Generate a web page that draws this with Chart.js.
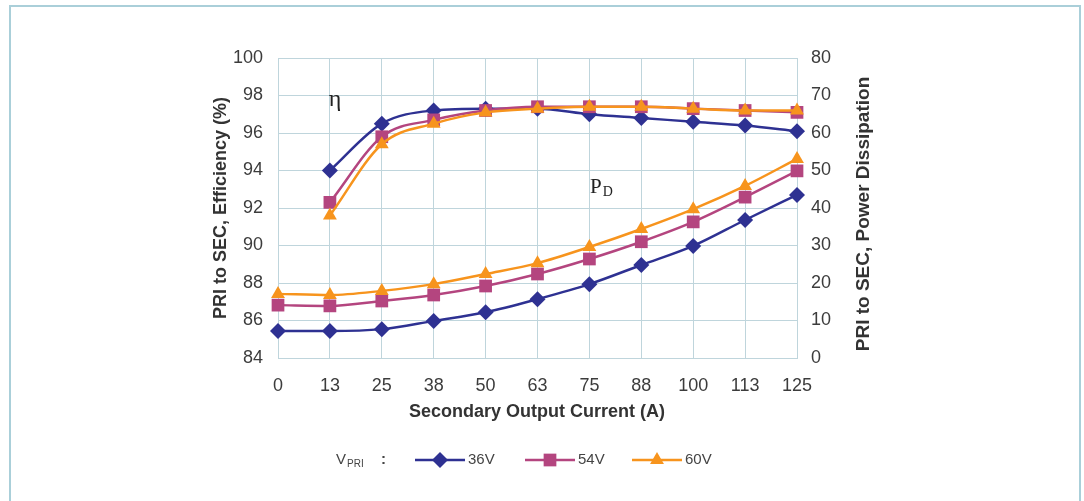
<!DOCTYPE html>
<html>
<head>
<meta charset="utf-8">
<script src="https://cdn.jsdelivr.net/npm/chart.js@4.4.0/dist/chart.umd.min.js"></script>
<style>
  html, body { margin: 0; padding: 0; background: #fff; overflow: hidden; }
  #wrap { position: relative; width: 1084px; height: 501px; }
  #frame { position: absolute; left: 9px; top: 5px; width: 1072px; height: 600px;
           border: 2px solid #aacfd9; box-sizing: border-box; }
</style>
</head>
<body>
<div id="wrap">
  <div id="frame"></div>
  <canvas id="chart1" width="1084" height="501"></canvas>
</div>
<script>
const currents = ['0', '13', '25', '38', '50', '63', '75', '88', '100', '113', '125'];

// efficiency (%), left axis - no point at 0 A
const eff36 = [null, 94.0, 96.5, 97.2, 97.3, 97.3, 97.0, 96.8, 96.6, 96.4, 96.1];
const eff54 = [null, 92.3, 95.8, 96.7, 97.2, 97.4, 97.4, 97.4, 97.3, 97.2, 97.1];
const eff60 = [null, 91.6, 95.4, 96.5, 97.1, 97.3, 97.4, 97.4, 97.3, 97.2, 97.2];

// power dissipation, right axis
const pd36 = [7.2, 7.2, 7.7, 9.9, 12.2, 15.7, 19.7, 24.8, 29.9, 36.8, 43.5];
const pd54 = [14.1, 13.9, 15.2, 16.8, 19.2, 22.4, 26.4, 31.0, 36.3, 42.9, 49.9];
const pd60 = [17.1, 16.8, 17.9, 19.7, 22.4, 25.3, 29.6, 34.4, 39.7, 45.9, 53.1];

const seriesNames = ['36V', '54V', '60V'];
const colors = ['#2e3192', '#b4457f', '#f7941d'];
const markers = ['rectRot', 'rect', 'triangle'];
const radii = [8, 9, 8];

const gridColor = '#bfd5dc';
const tickColor = '#3c3c3c';
const sans = "'Liberation Sans', Arial, sans-serif";
const serif = "'Liberation Serif', 'DejaVu Serif', serif";

function series(label, values, i, axis) {
    return {
        label: label,
        data: values,
        yAxisID: axis,
        borderColor: colors[i],
        backgroundColor: colors[i],
        borderWidth: 2.5,
        pointStyle: markers[i],
        pointRadius: radii[i],
        pointBorderWidth: 0,
        pointBackgroundColor: colors[i],
        cubicInterpolationMode: 'monotone',
        order: 3 - i
    };
}

const data1 = {
    labels: currents,
    datasets: [
        series('36V', eff36, 0, 'y'),
        series('54V', eff54, 1, 'y'),
        series('60V', eff60, 2, 'y'),
        series('36V', pd36, 0, 'y2'),
        series('54V', pd54, 1, 'y2'),
        series('60V', pd60, 2, 'y2')
    ]
};

const extras = {
    id: 'extras',
    afterDraw(chart) {
        const ctx = chart.ctx;
        const xs = chart.scales.x;
        const ys = chart.scales.y;
        ctx.save();
        ctx.fillStyle = '#333';
        ctx.textAlign = 'center';
        ctx.textBaseline = 'middle';

        // axis titles
        ctx.font = 'bold 18px ' + sans;
        ctx.fillText('Secondary Output Current (A)', 537, 412);
        ctx.save();
        ctx.translate(221, 208);
        ctx.rotate(-Math.PI / 2);
        ctx.fillText('PRI to SEC, Efficiency (%)', 0, 0);
        ctx.restore();
        ctx.save();
        ctx.translate(864, 214);
        ctx.rotate(-Math.PI / 2);
        ctx.font = 'bold 19px ' + sans;
        ctx.fillText('PRI to SEC, Power Dissipation', 0, 0);
        ctx.restore();

        // curve labels
        ctx.fillStyle = '#222';
        ctx.font = '24px ' + serif;
        ctx.fillText('\u03b7', xs.getPixelForValue(1.1), ys.getPixelForValue(97.8));
        const px = xs.getPixelForValue(6.2);
        const py = ys.getPixelForValue(93.1);
        ctx.font = '21px ' + serif;
        ctx.fillText('P', px - 4, py);
        ctx.font = '14px ' + serif;
        ctx.fillText('D', px + 8, py + 5);

        // legend
        const ly = 460;
        ctx.fillStyle = '#444';
        ctx.textAlign = 'left';
        ctx.font = '15px ' + sans;
        ctx.fillText('V', 336, ly);
        ctx.font = '10px ' + sans;
        ctx.fillText('PRI', 347, ly + 4);
        ctx.font = 'bold 15px ' + sans;
        ctx.fillText(':', 381, ly);
        const starts = [415, 525, 632];
        seriesNames.forEach((name, i) => {
            const x0 = starts[i];
            ctx.strokeStyle = colors[i];
            ctx.lineWidth = 2.5;
            ctx.beginPath();
            ctx.moveTo(x0, ly);
            ctx.lineTo(x0 + 50, ly);
            ctx.stroke();
            ctx.fillStyle = colors[i];
            Chart.helpers.drawPoint(ctx, {
                pointStyle: markers[i], radius: radii[i], borderWidth: 0
            }, x0 + 25, ly);
            ctx.fillStyle = '#444';
            ctx.font = '15px ' + sans;
            ctx.fillText(name, x0 + 53, ly);
        });
        ctx.restore();
    }
};

const config1 = {
    type: 'line',
    data: data1,
    options: {
        responsive: false,
        animation: false,
        layout: { padding: { left: 218, right: 227, top: 58, bottom: 0 } },
        plugins: {
            legend: { display: false },
            tooltip: { enabled: false }
        },
        scales: {
            x: {
                offset: false,
                grid: { color: gridColor, lineWidth: 1, drawTicks: false },
                border: { color: gridColor },
                ticks: { color: tickColor, font: { size: 18, family: sans }, padding: 17, maxRotation: 0, autoSkip: false },
                afterFit(scale) { scale.height = 143; }
            },
            y: {
                position: 'left',
                min: 84, max: 100,
                grid: { color: gridColor, lineWidth: 1, drawTicks: false },
                border: { color: gridColor },
                ticks: { stepSize: 2, color: tickColor, font: { size: 18, family: sans }, padding: 15 },
                afterFit(scale) { scale.width = 60; }
            },
            y2: {
                position: 'right',
                min: 0, max: 80,
                grid: { drawOnChartArea: false, drawTicks: false, color: gridColor },
                border: { color: gridColor },
                ticks: { stepSize: 10, color: tickColor, font: { size: 18, family: sans }, padding: 14 },
                afterFit(scale) { scale.width = 60; }
            }
        }
    },
    plugins: [extras]
};

const myChart1 = new Chart(document.getElementById('chart1').getContext('2d'), config1);
</script>
</body>
</html>
